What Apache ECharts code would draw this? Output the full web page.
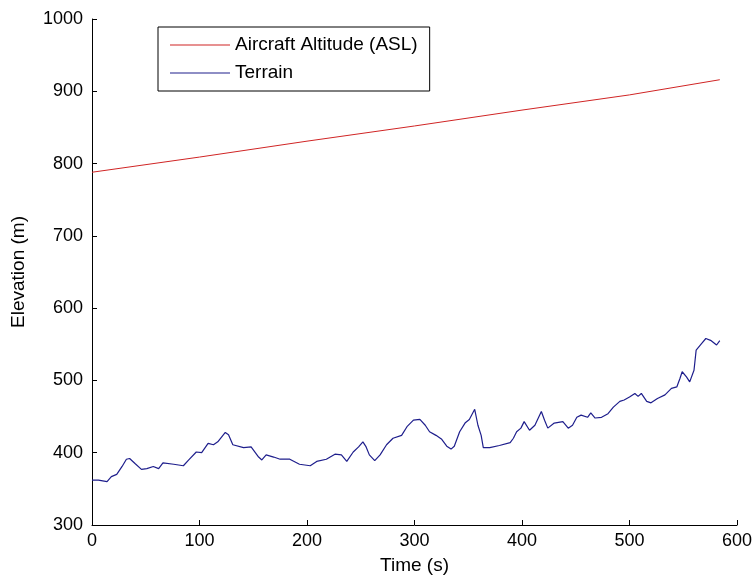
<!DOCTYPE html>
<html>
<head>
<meta charset="utf-8">
<script src="https://cdn.jsdelivr.net/npm/echarts@6/dist/echarts.min.js"></script>
<style>
  html, body { margin: 0; padding: 0; background: #fff; }
  #chart { width: 753px; height: 579px; }
</style>
</head>
<body>
<div id="chart"></div>
<script>
// 飞行高度 (ASL)
var altTime = [0, 100, 200, 300, 400, 500, 584];
var altValue = [788, 809, 831, 852, 874, 895, 916];

// 地形高程
var terrainTime = [0, 6, 14, 18, 23, 28, 32, 35, 40, 46, 51, 57, 62, 66, 76, 85, 90, 97, 102, 108,
  113, 117, 124, 127, 131, 141, 148, 155, 158, 162, 169, 175, 184, 193, 203, 209, 218, 226, 232, 237,
  243, 248, 252, 255, 258, 263, 268, 274, 280, 288, 293, 299, 305, 310, 314, 320, 325, 330, 334, 337,
  342, 347, 351, 356, 359, 362, 364, 370, 379, 389, 392, 395, 399, 402, 407, 412, 418, 421, 424, 430,
  438, 443, 447, 451, 455, 461, 464, 468, 474, 480, 485, 491, 495, 500, 505, 508, 511, 516, 520, 526,
  533, 539, 544, 547, 549, 553, 556, 560, 562, 567, 571, 576, 581, 584];
var terrainValue = [362, 362, 360, 367, 370, 381, 391, 392, 385, 377, 378, 381, 378, 386, 384, 382, 390, 401, 400, 413,
  411, 415, 428, 425, 411, 407, 408, 394, 390, 397, 394, 391, 391, 384, 382, 388, 391, 398, 397, 388,
  401, 408, 415, 408, 397, 389, 397, 411, 420, 424, 436, 445, 446, 438, 429, 424, 419, 409, 405, 409,
  429, 441, 446, 460, 438, 424, 407, 407, 410, 414, 420, 429, 434, 443, 431, 438, 457, 445, 434, 441,
  443, 434, 438, 449, 452, 449, 455, 448, 449, 454, 463, 471, 473, 477, 482, 478, 482, 471, 469, 475,
  480, 489, 491, 503, 512, 505, 498, 514, 542, 551, 558, 555, 549, 555];

var xTicks = [0, 100, 200, 300, 400, 500, 600];
var yTicks = [300, 400, 500, 600, 700, 800, 900, 1000];

function pairs(xs, ys) {
  return xs.map(function (x, i) { return [x, ys[i]]; });
}

var chart = echarts.init(document.getElementById('chart'));
var font = '"Liberation Sans", Arial, sans-serif';
var fsNum = 18;  // 刻度数字
var fsText = 19; // 文字

chart.setOption({
  animation: false,
  textStyle: { fontFamily: font },
  grid: { left: 92, right: 16, top: 19, bottom: 54, containLabel: false, outerBoundsMode: 'none' },
  legend: {
    orient: 'vertical',
    left: 158,
    top: 27,
    padding: [8, 12, 8, 12],
    itemGap: 8,
    itemWidth: 60,
    itemHeight: 1,
    icon: 'rect',
    borderColor: '#000',
    borderWidth: 1,
    borderRadius: 0,
    backgroundColor: '#fff',
    textStyle: { fontSize: fsText, color: '#000', fontFamily: font, lineHeight: 20 },
    data: ['Aircraft Altitude (ASL)', 'Terrain']
  },
  xAxis: {
    type: 'value',
    min: xTicks[0],
    max: xTicks[xTicks.length - 1],
    interval: 100,
    name: 'Time (s)',
    nameLocation: 'middle',
    nameGap: 31,
    nameTextStyle: { fontSize: fsText, color: '#000', fontFamily: font },
    axisLine: { lineStyle: { color: '#000', width: 1 } },
    axisTick: { inside: true, length: 5, lineStyle: { color: '#000' } },
    axisLabel: { fontSize: fsNum, color: '#000', margin: 7, fontFamily: font },
    splitLine: { show: false }
  },
  yAxis: {
    type: 'value',
    min: yTicks[0],
    max: yTicks[yTicks.length - 1],
    interval: 100,
    name: 'Elevation (m)',
    nameLocation: 'middle',
    nameGap: 64,
    nameTextStyle: { fontSize: fsText, color: '#000', fontFamily: font },
    axisLine: { show: true, lineStyle: { color: '#000', width: 1 } },
    axisTick: { show: true, inside: true, length: 5, lineStyle: { color: '#000' } },
    axisLabel: {
      fontSize: fsNum, color: '#000', margin: 9, fontFamily: font,
      formatter: function (v) { return String(v); }
    },
    splitLine: { show: false }
  },
  series: [
    {
      name: 'Aircraft Altitude (ASL)',
      type: 'line',
      symbol: 'none',
      data: pairs(altTime, altValue),
      lineStyle: { color: '#d02424', width: 1 },
      itemStyle: { color: '#d02424' }
    },
    {
      name: 'Terrain',
      type: 'line',
      symbol: 'none',
      data: pairs(terrainTime, terrainValue),
      lineStyle: { color: '#1e1e8c', width: 1.2 },
      itemStyle: { color: '#1e1e8c' }
    }
  ]
});
</script>
</body>
</html>
